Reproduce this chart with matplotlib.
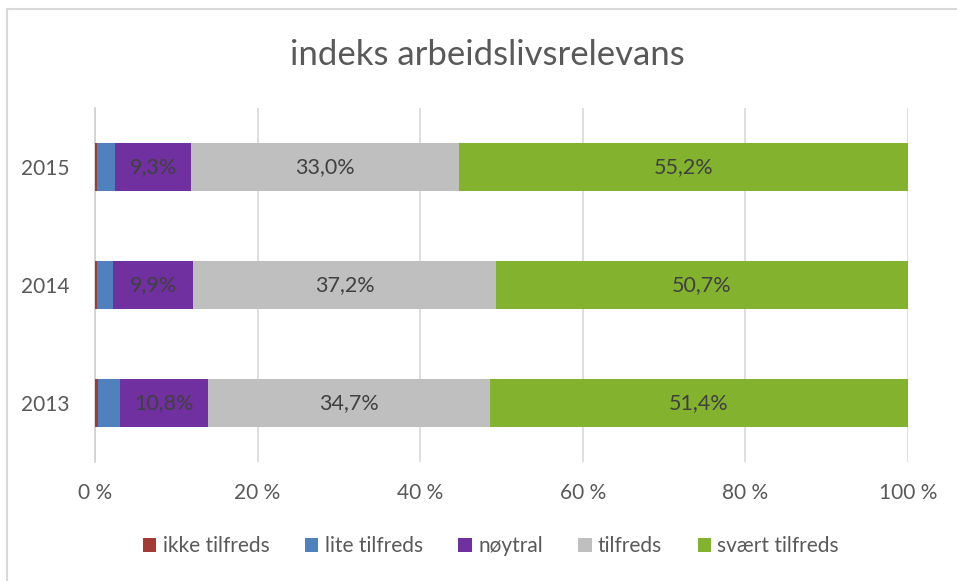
import matplotlib.pyplot as plt
import numpy as np
from matplotlib.patches import Rectangle

plt.rcParams['font.family'] = ['Lato', 'DejaVu Sans']

# data (percent), bottom to top
years = ['2013', '2014', '2015']
ikke_tilfreds = [0.4, 0.2, 0.2]
lite_tilfreds = [2.7, 2.0, 2.3]
noytral = [10.8, 9.9, 9.3]
tilfreds = [34.7, 37.2, 33.0]
svaert_tilfreds = [51.4, 50.7, 55.2]

series = [
    ('ikke tilfreds', ikke_tilfreds, '#a33a36', False),
    ('lite tilfreds', lite_tilfreds, '#4f81bd', False),
    ('nøytral', noytral, '#7030a0', True),
    ('tilfreds', tilfreds, '#bfbfbf', True),
    ('svært tilfreds', svaert_tilfreds, '#82b22e', True),
]

W, H = 957, 581
fig = plt.figure(figsize=(W / 100, H / 100), dpi=100)
ax = fig.add_axes([95 / W, (H - 462) / H, (908 - 95) / W, (462 - 108) / H])

y = np.arange(len(years))
left = np.zeros(len(years))
for name, vals, color, show in series:
    vals = np.array(vals)
    ax.barh(y, vals, left=left, height=0.4, color=color, label=name, zorder=3)
    if show:
        for yi, l, v in zip(y, left, vals):
            ax.text(l + v / 2, yi, f'{v:.1f}%'.replace('.', ','),
                    ha='center', va='center', fontsize=15.5, color='#404040', zorder=4)
    left += vals

ax.set_xlim(0, 100)
ax.set_ylim(-0.5, 2.5)
ax.set_yticks(y)
ax.set_yticklabels(years)
ax.set_xticks(np.arange(0, 101, 20))
ax.set_xticklabels([f'{t} %' for t in range(0, 101, 20)])
ax.tick_params(axis='both', length=0, labelsize=15, colors='#595959')
ax.tick_params(axis='x', pad=15)
ax.tick_params(axis='y', pad=18)
ax.grid(axis='x', color='#d9d9d9', linewidth=1.2, zorder=0)
for s in ['top', 'right', 'bottom']:
    ax.spines[s].set_visible(False)
ax.spines['left'].set_color('#d0d0d0')
ax.spines['left'].set_linewidth(1.2)

fig.text(487 / W, 1 - 55 / H, 'indeks arbeidslivsrelevans', ha='center', va='center',
         fontsize=25, color='#595959')

handles, labels = ax.get_legend_handles_labels()
fig.legend(handles, labels, loc='center', bbox_to_anchor=(491 / W, 1 - 546 / H),
           ncol=5, frameon=False, fontsize=15, labelcolor='#595959',
           handlelength=0.65, handleheight=0.65, handletextpad=0.3, columnspacing=1.7)

# chart border
fig.patches.append(Rectangle((7 / W, -0.1), 1.2, 1 - 9 / H + 0.1, transform=fig.transFigure,
                             fill=False, edgecolor='#d9d9d9', linewidth=1.5))

fig.savefig('out.png', dpi=100)
